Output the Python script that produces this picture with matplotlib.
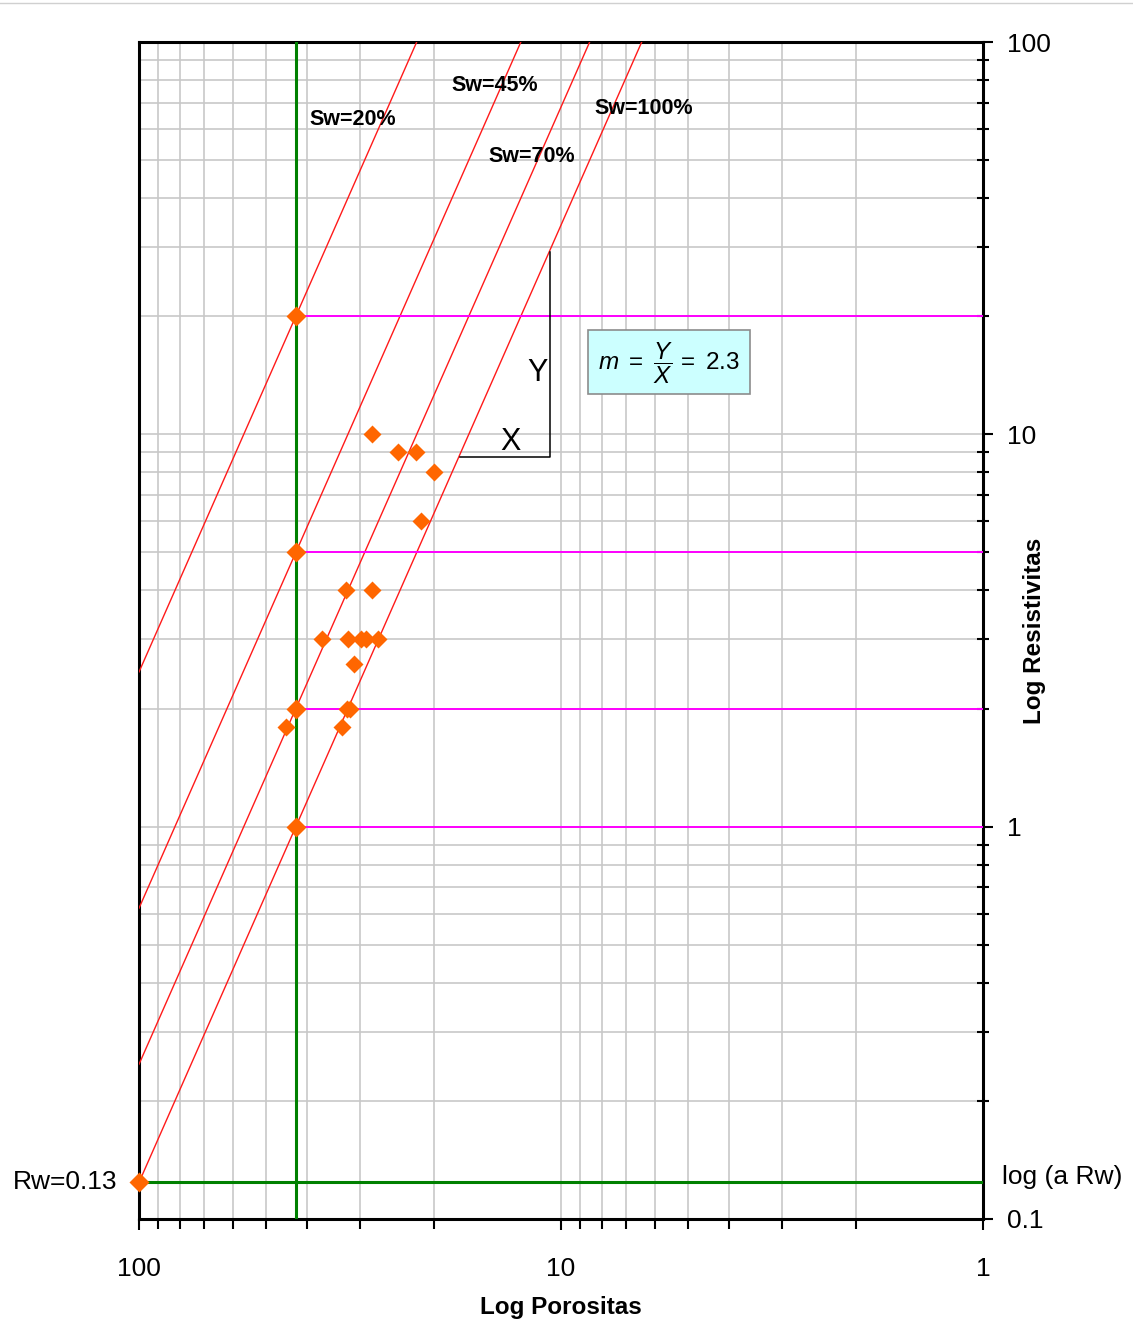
import numpy as np
import matplotlib
matplotlib.use('Agg')
import matplotlib.pyplot as plt
from matplotlib.ticker import FixedLocator, LogLocator, NullFormatter
from matplotlib.patches import Rectangle
from matplotlib.lines import Line2D

plt.rcParams['font.family'] = ['Liberation Sans', 'DejaVu Sans']
plt.rcParams['mathtext.fontset'] = 'custom'
plt.rcParams['mathtext.rm'] = 'Liberation Sans'
plt.rcParams['mathtext.it'] = 'Liberation Sans:italic'
plt.rcParams['mathtext.bf'] = 'Liberation Sans:bold'

# --- data ---
phi_ref = 42.5                      # green porosity line (%)
r_ref = [20, 5, 2, 1]               # resistivity of the Sw lines at phi_ref
sw_labels = ['Sw=20%', 'Sw=45%', 'Sw=70%', 'Sw=100%']
m_line = 2.44                       # slope of the drawn lines (log-log)
rw_val = 0.124                      # log (a Rw) intercept at phi=100
m_text = 2.3

phi_pts = [28.0, 24.4, 22.1, 20.0, 21.5, 32.4, 28.0, 36.9, 31.9, 29.7, 29.0,
           27.2, 30.9, 32.2, 31.6, 44.8, 33.0]
r_pts = [10, 9, 9, 8, 6, 4, 4, 3, 3, 3, 3, 3, 2.6, 2, 2, 1.8, 1.8]

tri_phi = [17.35, 10.63]
tri_r = [8.77, 29.2]

x_ticks = [100, 10, 1]
x_ticklabels = ['100', '10', '1']
y_ticks = [100, 10, 1, 0.1]
y_ticklabels = ['100', '10', '1', '0.1']

orange = '#ff6600'

fig = plt.figure(figsize=(11.33, 13.29), dpi=100)
ax = fig.add_axes([139 / 1133, 110 / 1329, 844 / 1133, 1177 / 1329])
ax.set_xscale('log')
ax.set_yscale('log')
ax.set_xlim(100, 1)
ax.set_ylim(0.1, 100)

# grid
ax.grid(True, which='both', color='#c8c8c8', lw=1.2)
ax.set_axisbelow(True)

# ticks
ax.xaxis.set_major_locator(FixedLocator(x_ticks))
ax.xaxis.set_minor_locator(LogLocator(base=10, subs=np.arange(2, 10)))
ax.xaxis.set_minor_formatter(NullFormatter())
ax.set_xticklabels(x_ticklabels)
ax.yaxis.set_major_locator(FixedLocator(y_ticks))
ax.yaxis.set_minor_locator(LogLocator(base=10, subs=np.arange(2, 10)))
ax.yaxis.set_minor_formatter(NullFormatter())
ax.yaxis.tick_right()
ax.set_yticklabels(y_ticklabels)
ax.tick_params(axis='x', which='major', direction='out', length=8, width=1.5,
               pad=19, labelsize=19)
ax.tick_params(axis='x', which='minor', direction='out', length=7, width=1.5)
ax.tick_params(axis='y', which='major', direction='out', length=7, width=1.5,
               pad=10, labelsize=19, left=False, right=True)
ax.tick_params(axis='y', which='minor', direction='inout', length=8, width=1.5,
               left=False, right=True)
for sp in ax.spines.values():
    sp.set_linewidth(2.2)

# Sw lines
for r0 in r_ref:
    xs = np.array([100.0, 1.0])
    ys = r0 * (xs / phi_ref) ** (-m_line)
    ax.plot(xs, ys, color='#ff1a1a', lw=1.0, zorder=3)

# magenta horizontal lines
ax.hlines(r_ref, phi_ref, 1, colors='#ff00ff', lw=1.4, zorder=3)

# green lines
ax.axvline(phi_ref, color='#008000', lw=2.2, zorder=4)
ax.axhline(rw_val, color='#008000', lw=2.2, zorder=4)

# triangle
ax.plot([tri_phi[0], tri_phi[1], tri_phi[1]], [tri_r[0], tri_r[0], tri_r[1]],
        color='black', lw=1.1, zorder=3)

# points
ax.plot(phi_pts, r_pts, 'D', color=orange, ms=9, mec='none', zorder=5)
ax.plot([phi_ref] * len(r_ref), r_ref, 'D', color=orange, ms=10.5, mec='none', zorder=5)
ax.plot([100], [rw_val], 'D', color=orange, ms=10, mec='none', zorder=5, clip_on=False)

# Sw labels
sw_pos = [(0.2536, 0.9343), (0.4212, 0.9629), (0.4653, 0.9025), (0.5977, 0.9431)]
for lab, (tx, ty) in zip(sw_labels, sw_pos):
    ax.text(tx, ty, lab, transform=ax.transAxes, ha='center', va='center',
            fontsize=15.5, fontweight='bold', zorder=6)

ax.text(0.4716, 0.7188, 'Y', transform=ax.transAxes, ha='center', va='center', fontsize=22)
ax.text(0.4396, 0.6604, 'X', transform=ax.transAxes, ha='center', va='center', fontsize=22)

# slope box
ax.add_patch(Rectangle((0.5323, 0.7007), 0.1916, 0.0546, transform=ax.transAxes,
                       facecolor='#ccffff', edgecolor='#8c8c8c', lw=1.2, zorder=6))
ax.text(0.6281, 0.7275, r'$m\ =\ \dfrac{Y}{X}\,=\ \mathrm{%s}$' % m_text,
        transform=ax.transAxes, ha='center', va='center', fontsize=17.5, zorder=7)

# Rw labels
ax.text(-0.026, rw_val, 'Rw=0.13', transform=ax.get_yaxis_transform(),
        ha='right', va='center', fontsize=19)
ax.text(1.0225, 0.0357, 'log (a Rw)', transform=ax.transAxes,
        ha='left', va='center', fontsize=19)

# axis labels
ax.set_xlabel('Log Porositas', fontsize=17.5, fontweight='bold')
ax.xaxis.label.set_va('center')
ax.xaxis.set_label_coords(0.5, -0.0756)
ax.yaxis.set_label_position('right')
ax.set_ylabel('Log Resistivitas', fontsize=17.5, fontweight='bold')
ax.yaxis.label.set_va('center')
ax.yaxis.set_label_coords(1.0616, 0.5)

fig.add_artist(Line2D([0, 1], [1 - 3 / 1329] * 2, transform=fig.transFigure,
                      color='#d0d0d0', lw=1))

fig.savefig('out.png', dpi=100)
